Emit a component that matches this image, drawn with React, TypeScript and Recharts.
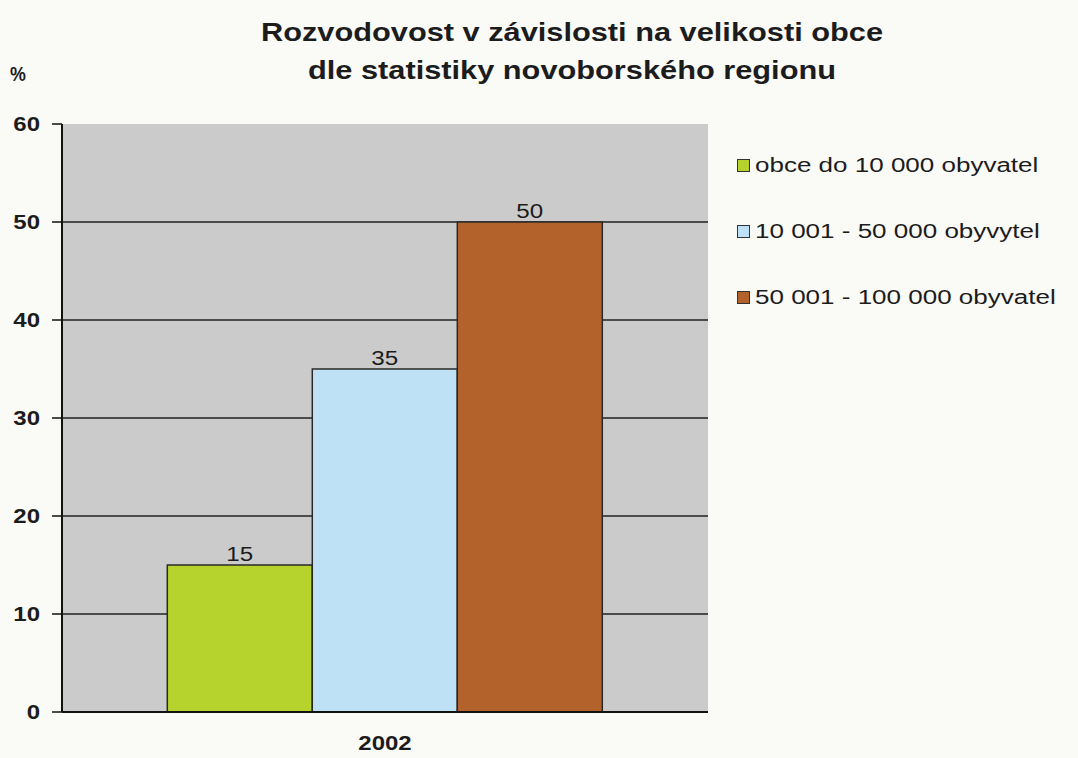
import { BarChart, Bar, XAxis, YAxis, CartesianGrid, LabelList } from 'recharts';

const years = ['2002'];
const small = [15];
const medium = [35];
const large = [50];
const yTicks = [0, 10, 20, 30, 40, 50, 60];

const seriesNames = ['obce do 10 000 obyvatel', '10 001 - 50 000 obyvytel', '50 001 - 100 000 obyvatel'];
const colors = ['#b6d22c', '#bfe1f6', '#b3622b'];

const data = years.map((year, i) => ({ year, small: small[i], medium: medium[i], large: large[i] }));

const font = '"Liberation Sans", Arial, sans-serif';
const ink = '#1c1c1c';

function YTick({ x, y, payload }: any) {
  return (
    <g transform={`translate(${x},${y})`}>
      <text transform="scale(1.2,1)" textAnchor="end" dy="0.36em" fontSize={20} fontWeight="bold" fontFamily={font} fill={ink}>
        {payload.value}
      </text>
    </g>
  );
}

function XTick({ x, y, payload }: any) {
  return (
    <g transform={`translate(${x},${y})`}>
      <text transform="scale(1.2,1)" textAnchor="middle" dy="0.36em" fontSize={20} fontWeight="bold" fontFamily={font} fill={ink}>
        {payload.value}
      </text>
    </g>
  );
}

function BarValue({ x, y, width, value }: any) {
  return (
    <g transform={`translate(${x + width / 2},${y - 4})`}>
      <text transform="scale(1.15,1)" textAnchor="middle" fontSize={21} fontFamily={font} fill={ink}>
        {value}
      </text>
    </g>
  );
}

// legend drawn outside the chart so it doesn't eat into the plot area
function LegendBox() {
  return (
    <div style={{ position: 'absolute', left: 737, top: 132, width: 340 }}>
      {seriesNames.map((name, i) => (
        <div key={name} style={{ display: 'flex', alignItems: 'center', height: 66 }}>
          <span
            style={{
              width: 13,
              height: 13,
              background: colors[i],
              border: '1.5px solid #333',
              boxSizing: 'border-box',
              marginRight: 5,
              flexShrink: 0,
            }}
          />
          <span
            style={{
              fontSize: 20,
              color: ink,
              whiteSpace: 'nowrap',
              display: 'inline-block',
              transform: 'scaleX(1.3)',
              transformOrigin: 'left center',
            }}
          >
            {name}
          </span>
        </div>
      ))}
    </div>
  );
}

export default function App() {
  return (
    <div style={{ position: 'absolute', left: 0, top: 0, width: 1078, height: 758, background: '#fafaf7', fontFamily: font }}>
      <div
        style={{
          position: 'absolute',
          left: 72,
          top: 13,
          width: 1000,
          textAlign: 'center',
          fontSize: 25,
          fontWeight: 'bold',
          lineHeight: '38px',
          color: ink,
          transform: 'scaleX(1.23)',
          transformOrigin: '50% 0',
        }}
      >
        Rozvodovost v závislosti na velikosti obce
        <br />
        dle statistiky novoborského regionu
      </div>
      <div
        style={{
          position: 'absolute',
          left: 10,
          top: 62,
          fontSize: 21,
          fontWeight: 'bold',
          color: ink,
          transform: 'scaleX(0.85)',
          transformOrigin: 'left top',
        }}
      >
        %
      </div>
      <BarChart
        width={1078}
        height={758}
        data={data}
        margin={{ top: 124, right: 370, bottom: 4, left: 12 }}
        barCategoryGap="16.3%"
        barGap={0}
        style={{ position: 'absolute', left: 0, top: 0 }}
      >
        <CartesianGrid
          vertical={false}
          horizontalValues={[10, 20, 30, 40, 50]}
          stroke="#222"
          strokeWidth={1.5}
          fill="#cbcbcb"
          fillOpacity={1}
        />
        <XAxis
          dataKey="year"
          height={42}
          tickLine={false}
          tickSize={0}
          tickMargin={31}
          axisLine={{ stroke: '#111', strokeWidth: 2 }}
          tick={<XTick />}
        />
        <YAxis
          width={50}
          domain={[0, 60]}
          ticks={yTicks}
          interval={0}
          tickSize={10}
          tickMargin={12}
          axisLine={{ stroke: '#111', strokeWidth: 2 }}
          tickLine={{ stroke: '#111', strokeWidth: 1.5 }}
          tick={<YTick />}
        />
        <Bar dataKey="small" name={seriesNames[0]} fill={colors[0]} stroke="#2a2a2a" strokeWidth={1.5} isAnimationActive={false}>
          <LabelList dataKey="small" content={<BarValue />} />
        </Bar>
        <Bar dataKey="medium" name={seriesNames[1]} fill={colors[1]} stroke="#2a2a2a" strokeWidth={1.5} isAnimationActive={false}>
          <LabelList dataKey="medium" content={<BarValue />} />
        </Bar>
        <Bar dataKey="large" name={seriesNames[2]} fill={colors[2]} stroke="#2a2a2a" strokeWidth={1.5} isAnimationActive={false}>
          <LabelList dataKey="large" content={<BarValue />} />
        </Bar>
      </BarChart>
      <LegendBox />
    </div>
  );
}
